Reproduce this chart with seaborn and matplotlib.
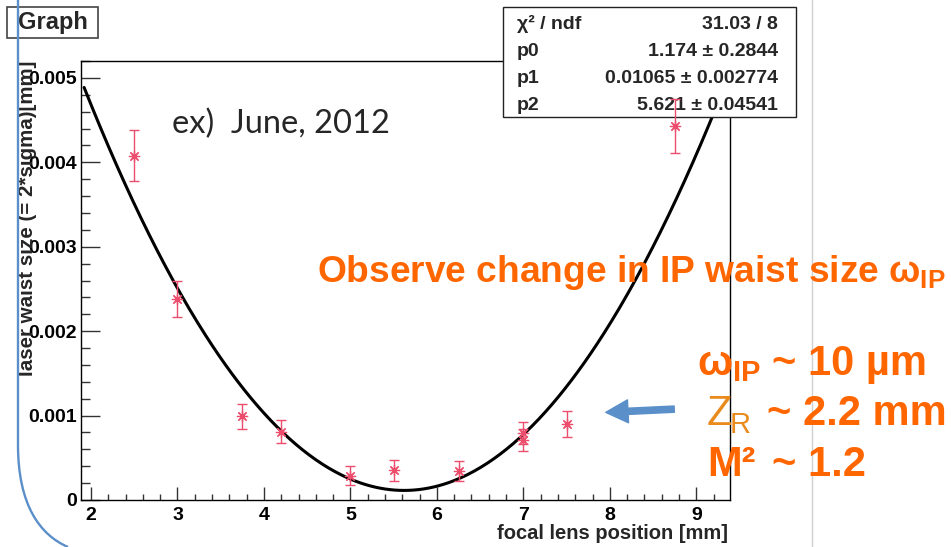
import numpy as np
import matplotlib
matplotlib.use("Agg")
import matplotlib.pyplot as plt
import seaborn as sns
from matplotlib.patches import Rectangle, FancyArrowPatch, PathPatch
from matplotlib.path import Path
from matplotlib.lines import Line2D
from matplotlib.transforms import Affine2D
from matplotlib.ticker import MultipleLocator

# Measured laser waist size vs. focal lens position
lens_pos = [2.5, 3.0, 3.75, 4.2, 5.0, 5.5, 6.25, 7.0, 7.0, 7.5, 8.75]
waist = [0.00408, 0.00238, 0.00099, 0.00081, 0.00029, 0.00035, 0.00034,
         0.00079, 0.00071, 0.00090, 0.00443]
waist_err = [0.00030, 0.00021, 0.00015, 0.00014, 0.00011, 0.00012, 0.00012,
             0.00013, 0.00013, 0.00015, 0.00032]

# Fit parameters (M^2, waist [mm], focus position [mm])
p0, p1, p2 = 1.174, 0.01065, 5.621
wavelength = 532e-6  # mm
fit_range = (1.92, 9.39)

stat_names = ["χ² / ndf", "p0", "p1", "p2"]
stat_values = ["31.03 / 8", "1.174 ± 0.2844", "0.01065 ± 0.002774",
               "5.621 ± 0.04541"]

x_ticks = [2, 3, 4, 5, 6, 7, 8, 9]
x_tick_labels = ["2", "3", "4", "5", "6", "7", "8", "9"]
y_ticks = [0, 0.001, 0.002, 0.003, 0.004, 0.005]
y_tick_labels = ["0", "0.001", "0.002", "0.003", "0.004", "0.005"]

W, H = 951, 547
sns.set_theme(style="ticks")
plt.rcParams["font.family"] = ["Liberation Sans", "DejaVu Sans"]
plt.rcParams["mathtext.fontset"] = "custom"
plt.rcParams["mathtext.rm"] = "Liberation Sans:bold"
plt.rcParams["mathtext.it"] = "Liberation Sans:bold"
plt.rcParams["mathtext.bf"] = "Liberation Sans:bold"

fig = plt.figure(figsize=(W / 100, H / 100), dpi=100)
fig.patch.set_facecolor("white")
# pixel coordinates, origin at top-left
px = Affine2D().scale(1 / W, -1 / H).translate(0, 1) + fig.transFigure

ax = fig.add_axes([81 / W, 1 - 500 / H, (730 - 81) / W, (500 - 61) / H])
ax.set_facecolor("white")

# fitted beam-size curve
xf = np.linspace(fit_range[0], fit_range[1], 400)
z_r = np.pi * p1 ** 2 / (p0 * wavelength)
yf = p1 ** 2 * (1 + ((xf - p2) / z_r) ** 2)
sns.lineplot(x=xf, y=yf, ax=ax, color="black", lw=2.2, zorder=2)

point_color = "#ec4d6c"
ax.errorbar(lens_pos, waist, yerr=waist_err, fmt="none", ecolor=point_color,
            elinewidth=1.0, capsize=3.5, capthick=1.0, zorder=5)
sns.scatterplot(x=lens_pos, y=waist, ax=ax, marker=(8, 2, 0), s=55,
                color=point_color, linewidth=0.9, zorder=6)

ax.set_xlim(1.884, 9.39)
ax.set_ylim(0, 0.0052)
ax.set_xticks(x_ticks, x_tick_labels)
ax.set_yticks(y_ticks, y_tick_labels)
ax.xaxis.set_minor_locator(MultipleLocator(0.2))
ax.yaxis.set_minor_locator(MultipleLocator(0.0002))
ax.tick_params(axis="y", which="major", direction="in", length=13.7,
               width=1.0, color="#333333", pad=3, labelsize=14)
ax.tick_params(axis="y", which="minor", direction="in", length=6.5,
               width=1.0, color="#333333")
ax.tick_params(axis="x", which="major", direction="in", length=9.4,
               width=1.0, color="#333333", pad=5, labelsize=14)
ax.tick_params(axis="x", which="minor", direction="in", length=4.3,
               width=1.0, color="#333333")
for lab in ax.get_xticklabels() + ax.get_yticklabels():
    lab.set_fontweight("bold")
    lab.set_color("black")
for sp in ax.spines.values():
    sp.set_visible(True)
    sp.set_color("black")
    sp.set_linewidth(1.0)
ax.set_xlabel("")
ax.set_ylabel("")

# statistics box
ax.add_patch(Rectangle((503, 7), 293, 110, transform=px, clip_on=False,
                       facecolor="white", edgecolor="#222222", lw=1.0,
                       zorder=3))
for i, (name, val) in enumerate(zip(stat_names, stat_values)):
    yb = 29 + 27 * i
    ax.text(517, yb, name, transform=px, fontsize=14, fontweight="bold",
            ha="left", va="baseline", clip_on=False, zorder=3.5)
    ax.text(778, yb, val, transform=px, fontsize=14, fontweight="bold",
            ha="right", va="baseline", clip_on=False, zorder=3.5)

# axis titles
fig.text(728, 539, "focal lens position [mm]", transform=px, fontsize=14.5,
         fontweight="bold", ha="right", va="baseline")
fig.text(28, 61, "laser waist size (= 2*sigma)[mm]", transform=px,
         fontsize=14.8, fontweight="bold", rotation=90,
         rotation_mode="anchor", ha="right", va="center")

# graph title box
fig.patches.append(Rectangle((7, 7), 91, 31, transform=px, facecolor="white",
                             edgecolor="#444444", lw=1.2, zorder=1))
fig.text(18, 29, "Graph", transform=px, fontsize=17, fontweight="bold",
         ha="left", va="baseline", zorder=2)

# slide decorations
fig.lines.append(Line2D([812, 812], [0, H], transform=px, color="#d0d0d0",
                        lw=1.0, zorder=1))
border = Path([(18, 0), (18, 445), (18, 505), (40, 535), (68, 547)],
              [Path.MOVETO, Path.LINETO, Path.CURVE4, Path.CURVE4, Path.CURVE4])
fig.patches.append(PathPatch(border, transform=px, facecolor="none",
                             edgecolor="#5b8fc9", lw=1.7, zorder=8))

fig.text(172, 133, "ex)  June, 2012", transform=px, fontsize=23.5,
         family=["Lato", "DejaVu Sans"], ha="left", va="baseline")

orange = "#ff6600"
fig.text(317, 282, r"Observe change in IP waist size $\omega_{\mathrm{IP}}$",
         transform=px, fontsize=26.7, fontweight="bold", color=orange,
         ha="left", va="baseline")

fig.text(697, 375, r"$\omega_{\mathrm{IP}}$", transform=px, fontsize=30,
         color=orange, ha="left", va="baseline")
fig.text(772, 375, "~ 10 µm", transform=px, fontsize=30, fontweight="bold",
         color=orange, ha="left", va="baseline")
fig.text(707, 425, "Z", transform=px, fontsize=30, color="#e88a1c",
         ha="left", va="baseline")
fig.text(730, 433, "R", transform=px, fontsize=21, color="#e88a1c",
         ha="left", va="baseline")
fig.text(767, 425, "~ 2.2 mm", transform=px, fontsize=30, fontweight="bold",
         color=orange, ha="left", va="baseline")
fig.text(707, 476, "M²", transform=px, fontsize=30,
         fontweight="bold", color=orange, ha="left", va="baseline")
fig.text(772, 476, "~ 1.2", transform=px, fontsize=30, fontweight="bold",
         color=orange, ha="left", va="baseline")

arrow = FancyArrowPatch((677, 409), (603, 412.5), transform=px,
                        arrowstyle="simple,head_length=1.6,head_width=1.65,tail_width=0.45",
                        mutation_scale=10, color="#5b8fc9", zorder=3)
fig.patches.append(arrow)

fig.savefig("out.png", dpi=100, facecolor="white")
